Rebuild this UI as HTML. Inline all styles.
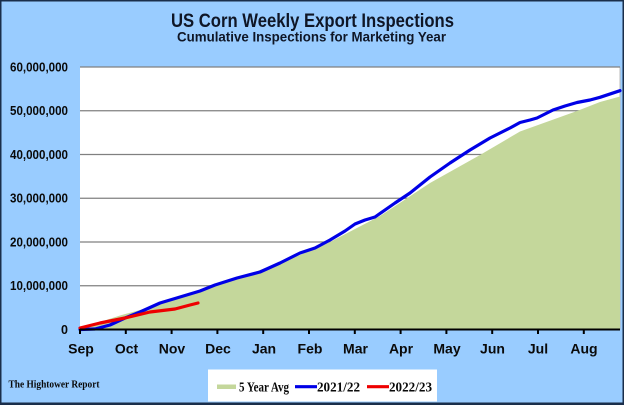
<!DOCTYPE html>
<html><head><meta charset="utf-8"><style>
html,body{margin:0;padding:0;background:#99CCFF;}
svg{display:block;}
</style></head><body>
<svg width="624" height="405" viewBox="0 0 624 405" xmlns="http://www.w3.org/2000/svg">
<rect x="0" y="0" width="624" height="405" fill="#99CCFF"/>
<!-- title -->
<text x="171" y="27" font-family="Liberation Sans, sans-serif" font-weight="bold" font-size="19" fill="#0F1626" textLength="283" lengthAdjust="spacingAndGlyphs">US Corn Weekly Export Inspections</text>
<text x="177" y="41.5" font-family="Liberation Sans, sans-serif" font-weight="bold" font-size="13.5" fill="#0F1626" textLength="269" lengthAdjust="spacingAndGlyphs">Cumulative  Inspections for Marketing Year</text>
<!-- plot area -->
<rect x="80" y="67" width="540" height="262.5" fill="#FFFFFF"/>
<line x1="620" y1="67" x2="620" y2="329.5" stroke="#BBBBBB" stroke-width="1"/>
<g stroke="#808080" stroke-width="1.3">
<line x1="80" y1="67" x2="620" y2="67"/>
<line x1="80" y1="110.75" x2="620" y2="110.75"/>
<line x1="80" y1="154.5" x2="620" y2="154.5"/>
<line x1="80" y1="198.25" x2="620" y2="198.25"/>
<line x1="80" y1="242" x2="620" y2="242"/>
<line x1="80" y1="285.75" x2="620" y2="285.75"/>
</g>
<!-- 5 year avg area -->
<polygon fill="#C4D79B" points="80,329.5 100,322 120,315.5 140,310 160,304 180,297 200,291 230,281 260,270 300,255 330,242 380,216 430,183 480,155 520,131.5 577,111 600,102 620,96.5 620,329.5"/>
<!-- 2021/22 -->
<polyline fill="none" stroke="#0000E6" stroke-width="3.2" stroke-linejoin="round" stroke-linecap="round" points="80,329.5 95,329 110,325 125,318 140,312 160,303 180,297 200,291 215,285 237,278 260,272 280,263 300,253 315,248 330,240 345,231 355,224 365,220 375,217 395,203 410,193 430,177 450,163 470,150 490,138 510,128 520,122.5 530,120 537,118 553,110 565,106 577,102.5 590,100 600,97.3 620,90.7"/>
<!-- 2022/23 -->
<polyline fill="none" stroke="#EE0000" stroke-width="3.2" stroke-linejoin="round" stroke-linecap="round" points="80,328 100,323 125,318 150,312 175,309 190,305 198,303"/>
<!-- axis -->
<line x1="80" y1="329.5" x2="620" y2="329.5" stroke="#000" stroke-width="2"/>
<g stroke="#000" stroke-width="2">
<line x1="80" y1="329" x2="80" y2="334"/>
<line x1="125.8" y1="329" x2="125.8" y2="334"/>
<line x1="171.6" y1="329" x2="171.6" y2="334"/>
<line x1="217.4" y1="329" x2="217.4" y2="334"/>
<line x1="263.2" y1="329" x2="263.2" y2="334"/>
<line x1="309" y1="329" x2="309" y2="334"/>
<line x1="354.8" y1="329" x2="354.8" y2="334"/>
<line x1="400.6" y1="329" x2="400.6" y2="334"/>
<line x1="446.4" y1="329" x2="446.4" y2="334"/>
<line x1="492.2" y1="329" x2="492.2" y2="334"/>
<line x1="538" y1="329" x2="538" y2="334"/>
<line x1="583.8" y1="329" x2="583.8" y2="334"/>
</g>
<!-- y labels -->
<g font-family="Liberation Sans, sans-serif" font-weight="bold" font-size="12.5" fill="#0A0A0A" text-anchor="end">
<text x="68" y="71.3" textLength="58" lengthAdjust="spacingAndGlyphs">60,000,000</text>
<text x="68" y="115" textLength="58" lengthAdjust="spacingAndGlyphs">50,000,000</text>
<text x="68" y="158.8" textLength="58" lengthAdjust="spacingAndGlyphs">40,000,000</text>
<text x="68" y="202.5" textLength="58" lengthAdjust="spacingAndGlyphs">30,000,000</text>
<text x="68" y="246.3" textLength="58" lengthAdjust="spacingAndGlyphs">20,000,000</text>
<text x="68" y="290" textLength="58" lengthAdjust="spacingAndGlyphs">10,000,000</text>
<text x="68" y="333.8">0</text>
</g>
<!-- month labels -->
<g font-family="Liberation Sans Narrow, Liberation Sans, sans-serif" font-weight="bold" font-size="14" fill="#0A0A0A" text-anchor="middle">
<text x="81" y="353.5">Sep</text>
<text x="126.5" y="353.5">Oct</text>
<text x="172" y="353.5">Nov</text>
<text x="218" y="353.5">Dec</text>
<text x="264" y="353.5">Jan</text>
<text x="310" y="353.5">Feb</text>
<text x="355.5" y="353.5">Mar</text>
<text x="401" y="353.5">Apr</text>
<text x="447" y="353.5">May</text>
<text x="492.5" y="353.5">Jun</text>
<text x="538" y="353.5">Jul</text>
<text x="584" y="353.5">Aug</text>
</g>
<!-- source -->
<text x="8.5" y="387.5" font-family="Liberation Serif, serif" font-weight="bold" font-size="11" fill="#0A0A0A" textLength="91" lengthAdjust="spacingAndGlyphs">The Hightower Report</text>
<!-- legend -->
<rect x="208" y="369.5" width="229" height="32" fill="#FFFFFF"/>
<rect x="217" y="384.5" width="19" height="4.5" fill="#C4D79B"/>
<line x1="295" y1="386.7" x2="317" y2="386.7" stroke="#0000E6" stroke-width="3.2"/>
<line x1="367" y1="386.7" x2="389" y2="386.7" stroke="#EE0000" stroke-width="3.2"/>
<g font-family="Liberation Serif, serif" font-weight="bold" font-size="14" fill="#0A0A0A">
<text x="239" y="391.5" textLength="50" lengthAdjust="spacingAndGlyphs">5 Year Avg</text>
<text x="317" y="391.5" textLength="43" lengthAdjust="spacingAndGlyphs">2021/22</text>
<text x="389" y="391.5" textLength="43" lengthAdjust="spacingAndGlyphs">2022/23</text>
</g>
<!-- outer border -->
<rect x="0.75" y="0.75" width="622.5" height="403" fill="none" stroke="#1A2E4A" stroke-width="1.5"/>
<line x1="0" y1="403.8" x2="624" y2="403.8" stroke="#1A2E4A" stroke-width="2.5"/>
</svg>
</body></html>
